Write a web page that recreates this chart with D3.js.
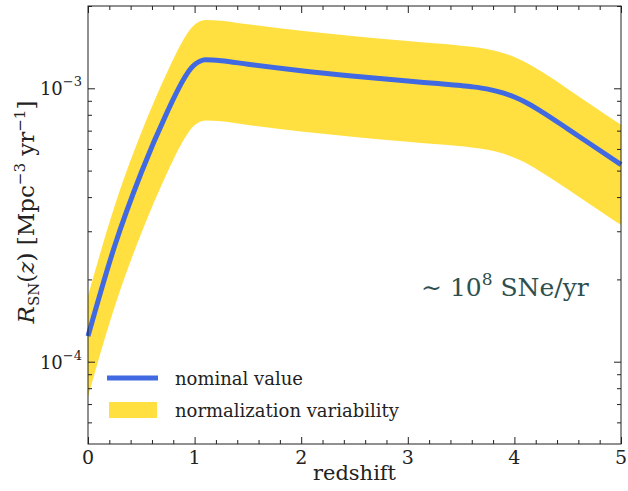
<!DOCTYPE html>
<html>
<head>
<meta charset="utf-8">
<script src="https://cdn.jsdelivr.net/npm/d3@7"></script>
<style>
  body { margin: 0; background: #fff; }
</style>
</head>
<body>
<svg id="chart" width="628" height="491" font-family="'DejaVu Serif', serif"></svg>
<script>
// redshift samples
const redshift = [0, 0.25, 0.5, 0.75, 0.8, 0.9, 0.95, 1.0, 1.05, 1.1, 1.25, 1.5, 2, 2.5, 3, 3.25, 3.5, 3.6, 3.75, 3.9, 4, 4.1, 4.25, 4.5, 4.75, 5];
const nominal = [1.24e-4, 2.65e-4, 4.92e-4, 8.30e-4, 9.13e-4, 1.084e-3, 1.162e-3, 1.22e-3, 1.256e-3, 1.271e-3, 1.262e-3, 1.224e-3, 1.159e-3, 1.107e-3, 1.063e-3, 1.043e-3, 1.023e-3, 1.013e-3, 9.93e-4, 9.60e-4, 9.29e-4, 8.91e-4, 8.24e-4, 7.11e-4, 6.11e-4, 5.26e-4];
const upper = [1.74e-4, 3.71e-4, 6.89e-4, 1.162e-3, 1.278e-3, 1.518e-3, 1.627e-3, 1.708e-3, 1.758e-3, 1.779e-3, 1.767e-3, 1.714e-3, 1.623e-3, 1.550e-3, 1.488e-3, 1.460e-3, 1.432e-3, 1.418e-3, 1.390e-3, 1.344e-3, 1.301e-3, 1.247e-3, 1.154e-3, 9.95e-4, 8.55e-4, 7.36e-4];
const lower = [7.44e-5, 1.59e-4, 2.95e-4, 4.98e-4, 5.48e-4, 6.50e-4, 6.97e-4, 7.32e-4, 7.54e-4, 7.63e-4, 7.57e-4, 7.34e-4, 6.95e-4, 6.64e-4, 6.38e-4, 6.26e-4, 6.14e-4, 6.08e-4, 5.96e-4, 5.76e-4, 5.57e-4, 5.35e-4, 4.94e-4, 4.27e-4, 3.67e-4, 3.16e-4];

const xTicks = [0, 1, 2, 3, 4, 5];
const yMajor = [1e-4, 1e-3];
const yMajorExp = ['\u22124', '\u22123'];

const margin = { top: 6, right: 7, bottom: 47, left: 88 };
const width = 628, height = 491;
const svg = d3.select('#chart');

const x = d3.scaleLinear().domain([0, 5]).range([margin.left, width - margin.right]);
const y = d3.scaleLog().domain([5e-5, 2e-3]).range([height - margin.bottom, margin.top]);

const rows = redshift.map((z, i) => ({ z, n: nominal[i], hi: upper[i], lo: lower[i] }));

// band
svg.append('path')
	.datum(rows)
	.attr('fill', '#ffe040')
	.attr('d', d3.area()
		.x(d => x(d.z))
		.y0(d => y(d.lo))
		.y1(d => y(d.hi))
		.curve(d3.curveMonotoneX));

// nominal line
svg.append('path')
	.datum(rows)
	.attr('fill', 'none')
	.attr('stroke', '#4169e1')
	.attr('stroke-width', 5)
	.attr('d', d3.line()
		.x(d => x(d.z))
		.y(d => y(d.n))
		.curve(d3.curveMonotoneX));

// minor ticks
const xMinor = d3.range(0, 5.001, 0.2).filter(v => Math.abs(v - Math.round(v)) > 1e-6);
const yMinor = [];
[1e-5, 1e-4, 1e-3].forEach(p => d3.range(2, 10).forEach(k => {
	const v = k * p;
	if (v > 5e-5 && v < 2e-3 + 1e-9 && !yMajor.includes(v)) yMinor.push(v);
}));

const ticks = (axisFn, scale, vals, size, offset) => {
	svg.append('g')
		.attr('transform', offset)
		.call(axisFn(scale).tickValues(vals).tickSize(size).tickFormat(''))
		.call(g => g.select('.domain').remove())
		.selectAll('line').attr('stroke', '#222');
};

const b = height - margin.bottom, t = margin.top, l = margin.left, r = width - margin.right;
ticks(d3.axisBottom, x, xTicks, -7, `translate(0,${b})`);
ticks(d3.axisBottom, x, xMinor, -4, `translate(0,${b})`);
ticks(d3.axisTop, x, xTicks, -7, `translate(0,${t})`);
ticks(d3.axisTop, x, xMinor, -4, `translate(0,${t})`);
ticks(d3.axisLeft, y, yMajor, -7, `translate(${l},0)`);
ticks(d3.axisLeft, y, yMinor, -4, `translate(${l},0)`);
ticks(d3.axisRight, y, yMajor, -7, `translate(${r},0)`);
ticks(d3.axisRight, y, yMinor, -4, `translate(${r},0)`);

svg.append('rect')
	.attr('x', l).attr('y', t)
	.attr('width', r - l).attr('height', b - t)
	.attr('fill', 'none')
	.attr('stroke', '#222');

// tick labels
svg.append('g').selectAll('text')
	.data(xTicks)
	.join('text')
	.attr('x', d => x(d))
	.attr('y', b + 20)
	.attr('text-anchor', 'middle')
	.attr('font-size', 19)
	.attr('fill', '#222')
	.text(d => d);

const yl = svg.append('g').selectAll('text')
	.data(yMajor)
	.join('text')
	.attr('x', l - 6)
	.attr('y', d => y(d) + 7)
	.attr('text-anchor', 'end')
	.attr('font-size', 18)
	.attr('fill', '#222');
yl.append('tspan').text('10');
yl.append('tspan').attr('dy', -9).attr('font-size', 13).text((d, i) => yMajorExp[i]);

// axis titles
svg.append('text')
	.attr('x', (l + r) / 2)
	.attr('y', 480)
	.attr('text-anchor', 'middle')
	.attr('font-size', 21)
	.attr('fill', '#222')
	.text('redshift');

const yt = svg.append('text')
	.attr('transform', `translate(34,212) rotate(-90)`)
	.attr('text-anchor', 'middle')
	.attr('font-size', 23)
	.attr('fill', '#222');
yt.append('tspan').attr('font-style', 'italic').text('R');
yt.append('tspan').attr('font-size', 15).attr('dy', 5).text('SN');
yt.append('tspan').attr('dy', -5).text('(');
yt.append('tspan').attr('font-style', 'italic').text('z');
yt.append('tspan').text(') [Mpc');
yt.append('tspan').attr('font-size', 15).attr('dy', -9).text('\u22123');
yt.append('tspan').attr('dy', 9).text(' yr');
yt.append('tspan').attr('font-size', 15).attr('dy', -9).text('\u22121');
yt.append('tspan').attr('dy', 9).text(']');

// annotation
const ann = svg.append('text')
	.attr('x', 421)
	.attr('y', 296)
	.attr('font-size', 25)
	.attr('fill', '#2f4f4f');
ann.append('tspan').text('\u223c 10');
ann.append('tspan').attr('dy', -11).attr('font-size', 17).text('8');
ann.append('tspan').attr('dy', 11).text(' SNe/yr');

// legend
const lg = svg.append('g');
lg.append('line')
	.attr('x1', 107).attr('x2', 158)
	.attr('y1', 378).attr('y2', 378)
	.attr('stroke', '#4169e1').attr('stroke-width', 5);
lg.append('rect')
	.attr('x', 109).attr('y', 402)
	.attr('width', 48).attr('height', 16)
	.attr('fill', '#ffe040');
lg.append('text').attr('x', 175).attr('y', 385).attr('font-size', 18).attr('fill', '#222').text('nominal value');
lg.append('text').attr('x', 175).attr('y', 417).attr('font-size', 18).attr('fill', '#222').text('normalization variability');
</script>
</body>
</html>
